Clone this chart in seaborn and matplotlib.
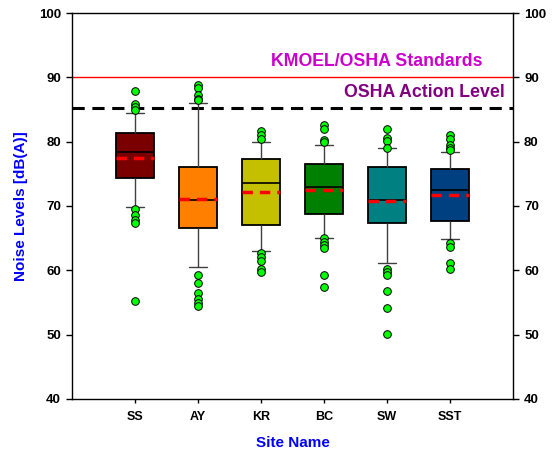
import numpy as np
import pandas as pd
import matplotlib
matplotlib.use("Agg")
import matplotlib.pyplot as plt
import seaborn as sns

sites = ["SS", "AY", "KR", "BC", "SW", "SST"]
colors = ["#7A0000", "#FF8000", "#C4C000", "#008000", "#008080", "#004080"]

whislo = [69.85, 60.5, 63.05, 65.1, 61.15, 64.85]
q1 = [74.3, 66.6, 67.0, 68.75, 67.4, 67.7]
median = [78.35, 70.9, 73.6, 72.9, 70.9, 72.5]
q3 = [81.4, 76.0, 77.25, 76.5, 76.0, 75.7]
whishi = [84.5, 86.05, 80.0, 79.5, 78.95, 78.35]
means = [77.45, 71.15, 72.2, 72.55, 70.7, 71.75]

outliers = {
    "SS": [87.8, 85.8, 85.4, 84.9, 69.6, 68.6, 67.9, 67.3, 55.2],
    "AY": [88.8, 88.3, 87.25, 86.7, 86.4, 59.2, 58.1, 56.5, 55.5, 54.9, 54.45],
    "KR": [81.7, 81.0, 80.35, 62.75, 62.1, 61.4, 60.2, 59.7],
    "BC": [82.6, 82.0, 80.25, 79.95, 65.0, 64.45, 63.9, 63.4, 59.2, 57.45],
    "SW": [81.95, 80.5, 80.1, 79.05, 60.15, 59.7, 59.2, 56.8, 54.2, 50.15],
    "SST": [81.05, 80.35, 79.45, 79.05, 78.7, 64.3, 63.7, 61.1, 60.15],
}

osha_pel = 90
osha_action = 85.2
yticks = [40, 50, 60, 70, 80, 90, 100]

# box summary points per site (whisker ends, quartiles, median)
rows = []
for i, s in enumerate(sites):
    for v in (whislo[i], q1[i], median[i], q3[i], whishi[i]):
        rows.append({"site": s, "value": v})
box_df = pd.DataFrame(rows)
out_df = pd.DataFrame([{"site": s, "value": v} for s in sites for v in outliers[s]])

sns.set_style("ticks")
plt.rcParams["font.family"] = ["Liberation Sans", "DejaVu Sans"]
plt.rcParams["font.weight"] = "bold"
plt.rcParams["text.color"] = "black"
plt.rcParams["xtick.color"] = "black"
plt.rcParams["ytick.color"] = "black"

fig = plt.figure(figsize=(5.59, 4.54), dpi=100)
ax = fig.add_axes([72 / 559, 55 / 454, 441 / 559, 386 / 454])

sns.boxplot(data=box_df, x="site", y="value", hue="site", order=sites, hue_order=sites,
            palette=colors, whis=(0, 100), showfliers=False, width=0.6, legend=False,
            linecolor="black", linewidth=1.3, saturation=1, ax=ax,
            whiskerprops=dict(color="#404040", linewidth=1.0),
            capprops=dict(color="#404040", linewidth=1.0),
            medianprops=dict(color="black", linewidth=1.2))

for i, m in enumerate(means):
    ax.hlines(m, i - 0.3, i + 0.3, colors="#FF0000", linestyles=(0, (3, 2)), linewidth=2.5, zorder=5)

sns.stripplot(data=out_df, x="site", y="value", order=sites, jitter=False,
              color="#00FF00", edgecolor="black", linewidth=0.7, size=5.5, ax=ax, zorder=6)

ax.axhline(osha_pel, color="#FF0000", linewidth=1.0, zorder=1)
ax.axhline(osha_action, color="black", linewidth=2.2, linestyle=(0, (4, 2.5)), zorder=1)

ax.text(5.51, 92.5, "KMOEL/OSHA Standards", color="#CC00CC", fontsize=12.8,
        fontweight="bold", ha="right", va="center")
ax.text(5.87, 87.7, "OSHA Action Level", color="#800080", fontsize=12.8,
        fontweight="bold", ha="right", va="center")

ax.set_xlim(-1, 6)
ax.set_ylim(40, 100)
ax.set_yticks(yticks)
ax.set_yticklabels([str(t) for t in yticks])
for sp in ax.spines.values():
    sp.set_visible(True)
    sp.set_linewidth(1.0)
    sp.set_color("black")
ax.tick_params(axis="y", which="both", direction="out", length=4, width=1,
               right=True, labelright=True, labelsize=9.5, pad=4,
               colors="black", labelcolor="black")
ax.tick_params(axis="x", direction="out", length=3, width=1, labelsize=9, pad=6,
               colors="black", labelcolor="black")
for lab in ax.get_xticklabels() + ax.get_yticklabels():
    lab.set_fontweight("bold")

ax.set_xlabel("Site Name", color="#0000FF", fontsize=11, fontweight="bold", labelpad=9)
ax.set_ylabel("Noise Levels [dB(A)]", color="#0000FF", fontsize=11, fontweight="bold", labelpad=8)

fig.savefig("out.png", dpi=100)
